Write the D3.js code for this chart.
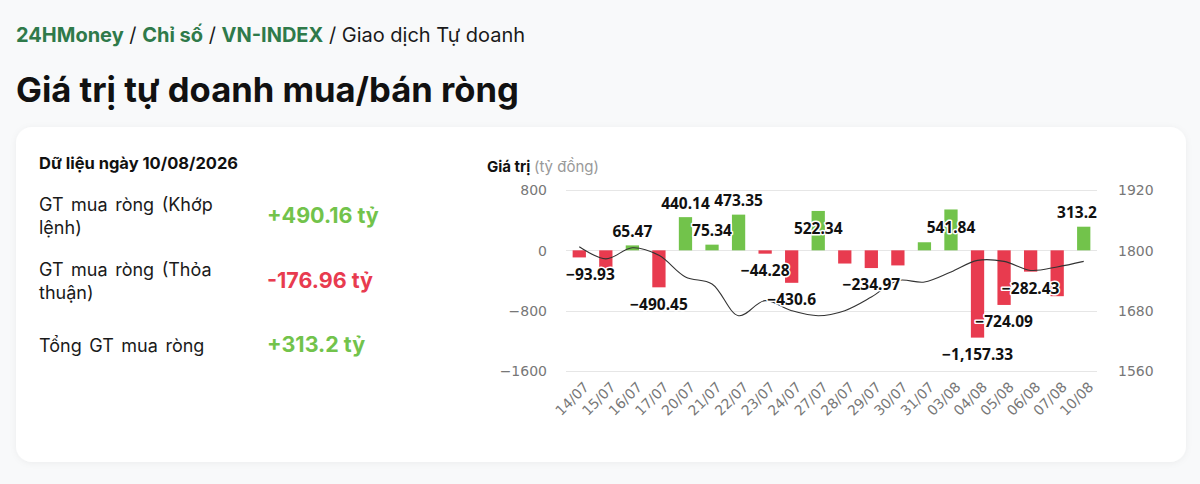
<!DOCTYPE html>
<html><head><meta charset="utf-8">
<script src="https://cdn.jsdelivr.net/npm/d3@7"></script>
<style>
html,body{margin:0;padding:0;background:#f8f9fa;}
svg{display:block;}
</style></head>
<body>
<svg id="c" width="1200" height="484"></svg>
<script>
// ---- data ----
const categories = ["14/07","15/07","16/07","17/07","20/07","21/07","22/07","23/07","24/07","27/07","28/07","29/07","30/07","31/07","03/08","04/08","05/08","06/08","07/08","10/08"];
const netValues = [-93.93,-245,65.47,-490.45,440.14,75.34,473.35,-44.28,-430.6,522.34,-175,-234.97,-200,107,541.84,-1157.33,-724.09,-282.43,-608,313.2];
const indexValues = [1807,1783,1805,1790,1747,1733,1670,1700,1680,1670,1680,1707,1740,1737,1757,1780,1778,1760,1767,1778];
const leftTicks = [-1600,-800,0,800];
const rightTicks = [1560,1680,1800,1920];
const hiddenLabels = ["15/07","28/07","30/07","31/07","07/08"];
const insideLabels = ["27/07","03/08"];
const breadcrumb = [["24HMoney",true],[" / ",false],["Chỉ số",true],[" / ",false],["VN-INDEX",true],[" / Giao dịch Tự doanh",false]];
const pageTitle = "Giá trị tự doanh mua/bán ròng";
const dateLabel = "Dữ liệu ngày 10/08/2026";
const summaryRows = [
  {label:["GT mua ròng (Khớp","lệnh)"], value:"+490.16 tỷ", pos:true},
  {label:["GT mua ròng (Thỏa","thuận)"], value:"-176.96 tỷ", pos:false},
  {label:["Tổng GT mua ròng"], value:"+313.2 tỷ", pos:true}
];

const GREEN="#72c34b", RED="#e83b4f", DKGREEN="#2f7a4a";
const svg = d3.select("#c");
const UI = "Inter, 'Noto Sans', sans-serif";
const CH = "'DejaVu Sans', Verdana, sans-serif";
const LBL = "'Noto Sans', 'DejaVu Sans', sans-serif";

// page header
const bc = svg.append("text").attr("x",16).attr("y",42).attr("font-family",UI).attr("font-size",20);
breadcrumb.forEach(([t,b])=>{
  bc.append("tspan").text(t).attr("font-weight",b?700:400).attr("fill",b?DKGREEN:"#1a1a1a");
});
svg.append("text").attr("x",16).attr("y",102).attr("font-family",UI).attr("font-size",34.6)
  .attr("font-weight",700).attr("fill","#111").text(pageTitle);

// card
const defs = svg.append("defs");
const f = defs.append("filter").attr("id","sh").attr("x","-5%").attr("y","-5%").attr("width","110%").attr("height","115%");
f.append("feDropShadow").attr("dx",0).attr("dy",1).attr("stdDeviation",3).attr("flood-color","#000").attr("flood-opacity",0.05);
svg.append("rect").attr("x",16).attr("y",127).attr("width",1170).attr("height",335).attr("rx",16)
  .attr("fill","#fff").attr("filter","url(#sh)");

// left summary
svg.append("text").attr("x",39).attr("y",169).attr("font-family",UI).attr("font-size",16.5)
  .attr("font-weight",700).attr("fill","#111").text(dateLabel);
const rowY = [211,276,352];
summaryRows.forEach((r,i)=>{
  const t = svg.append("text").attr("font-family",UI).attr("font-size",18).attr("fill","#1a1a1a").attr("word-spacing",2.5);
  r.label.forEach((l,j)=>t.append("tspan").attr("x",39).attr("y",rowY[i]+j*23).text(l));
  const vy = r.label.length>1 ? rowY[i]+12 : rowY[i];
  svg.append("text").attr("x",267).attr("y",vy).attr("font-family",UI).attr("font-size",21.5)
    .attr("font-weight",700).attr("fill",r.pos?GREEN:RED).text(r.value);
});

// chart
const L=566, R=1097, T=190, B=371;
const x = d3.scaleBand().domain(categories).range([L,R]).paddingInner(0.5).paddingOuter(0.25);
const y = d3.scaleLinear().domain([-1600,800]).range([B,T]);
const y2 = d3.scaleLinear().domain([1560,1920]).range([B,T]);

const ttl = svg.append("text").attr("x",487).attr("y",172).attr("font-family",UI).attr("font-size",15);
ttl.append("tspan").attr("font-weight",700).attr("fill","#111").text("Giá trị ");
ttl.append("tspan").attr("fill","#999").text("(tỷ đồng)");

// grid
svg.append("g").selectAll("line").data(leftTicks).join("line")
  .attr("x1",L).attr("x2",R).attr("y1",d=>Math.round(y(d))+0.5).attr("y2",d=>Math.round(y(d))+0.5)
  .attr("stroke","#e6e6e6").attr("stroke-width",1);

// axes
const ax = svg.append("g").attr("transform",`translate(${L-19},0)`)
  .call(d3.axisLeft(y).tickValues(leftTicks).tickSize(0).tickPadding(0).tickFormat(d3.format("d")));
const ax2 = svg.append("g").attr("transform",`translate(${R+21},0)`)
  .call(d3.axisRight(y2).tickValues(rightTicks).tickSize(0).tickPadding(0).tickFormat(d3.format("d")));
[ax,ax2].forEach(a=>{
  a.select(".domain").remove();
  a.selectAll("text").attr("font-family",CH).attr("font-size",14).attr("fill","#777").attr("dy","0.35em");
});
const axb = svg.append("g").attr("transform",`translate(0,${B})`)
  .call(d3.axisBottom(x).tickSize(0).tickPadding(0));
axb.select(".domain").remove();
axb.selectAll("text").attr("font-family",CH).attr("font-size",14).attr("fill","#777")
  .attr("text-anchor","end").attr("dy",0).attr("y",0)
  .attr("transform",d=>`translate(${x.bandwidth()/2+4},17) rotate(-45)`);

// bars
svg.append("g").selectAll("rect").data(categories).join("rect")
  .attr("x",(d)=>x(d)).attr("width",x.bandwidth())
  .attr("y",(d,i)=>y(Math.max(0,netValues[i])))
  .attr("height",(d,i)=>Math.abs(y(netValues[i])-y(0)))
  .attr("fill",(d,i)=>netValues[i]>=0?GREEN:RED);

// line
const line = d3.line().x((d,i)=>x(categories[i])+x.bandwidth()/2).y(d=>y2(d)).curve(d3.curveCatmullRom.alpha(0.5));
svg.append("path").datum(indexValues).attr("d",line).attr("fill","none").attr("stroke","#333").attr("stroke-width",1.1);

// data labels
const fmt = d3.format(",");
const lg = svg.append("g").attr("font-family",LBL).attr("font-size",15.5).attr("font-weight",700);
categories.forEach((c,i)=>{
  if(hiddenLabels.includes(c)) return;
  const v = netValues[i];
  const cx = x(c)+x.bandwidth()/2;
  let cy;
  if(insideLabels.includes(c)) cy = y(v)+18;
  else cy = v>=0 ? y(v)-14 : y(v)+17;
  const t = lg.append("text").attr("x",cx).attr("y",cy).attr("dy","0.35em").attr("text-anchor","middle")
    .attr("fill","#111").attr("stroke","#fff").attr("stroke-width",3).attr("stroke-linejoin","round")
    .attr("paint-order","stroke").text(fmt(v));
  const bb = t.node().getBBox();
  if(bb.x < L) t.attr("x", cx + (L-bb.x));
  if(bb.x+bb.width > R) t.attr("x", cx - (bb.x+bb.width-R));
});
</script>
</body></html>
